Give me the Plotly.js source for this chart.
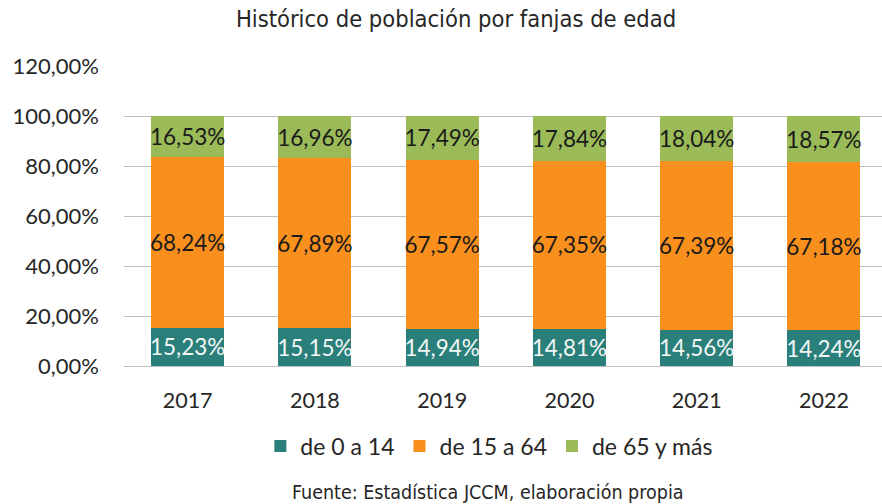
<!DOCTYPE html>
<html>
<head>
<meta charset="utf-8">
<script src="https://cdn.plot.ly/plotly-3.0.1.min.js"></script>
<style>html,body{margin:0;padding:0;background:#fff;}#chart{width:882px;height:504px;}</style>
</head>
<body>
<div id="chart"></div>
<script>
var years = ['2017', '2018', '2019', '2020', '2021', '2022'];
var seriesNames = ['de 0 a 14', 'de 15 a 64', 'de 65 y más'];
var young = [15.23, 15.15, 14.94, 14.81, 14.56, 14.24];
var adult = [68.24, 67.89, 67.57, 67.35, 67.39, 67.18];
var senior = [16.53, 16.96, 17.49, 17.84, 18.04, 18.57];
var yTicks = [0, 20, 40, 60, 80, 100, 120];
var yTickLabels = ['0,00%', '20,00%', '40,00%', '60,00%', '80,00%', '100,00%', '120,00%'];

var colors = ['#2B7F7A', '#F98F1D', '#9BBB59'];
var textColors = ['#F2F7F6', '#1A1A1A', '#1A1A1A'];
var values = [young, adult, senior];
var labelFont = 'Lato, "Open Sans", sans-serif';
var narrowFont = '"DejaVu Sans Condensed", "Liberation Sans Narrow", "Liberation Sans", sans-serif';

var traces = values.map(function (v, i) {
  return {
    type: 'bar',
    name: seriesNames[i],
    x: years,
    y: v,
    width: 0.574,
    marker: {color: colors[i], line: {width: 0}},
    texttemplate: '%{y:.2f}%',
    textposition: 'inside',
    insidetextanchor: 'middle',
    textangle: 0,
    constraintext: 'none',
    textfont: {family: labelFont, size: 22.5, color: textColors[i]},
    hoverinfo: 'skip'
  };
});

var layout = {
  width: 882,
  height: 504,
  barmode: 'stack',
  separators: ',.',
  paper_bgcolor: '#FFFFFF',
  plot_bgcolor: '#FFFFFF',
  margin: {l: 124, r: 0, t: 66, b: 138, pad: 0},
  title: {
    text: 'Histórico de población por fanjas de edad',
    font: {family: narrowFont, size: 23.5, color: '#262626'},
    x: 0.438, xanchor: 'center', xref: 'paper',
    y: 0.962, yanchor: 'middle', yref: 'container'
  },
  xaxis: {
    type: 'category',
    range: [-0.5, 5.456],
    showgrid: false,
    showline: true,
    linecolor: '#BFBFBF',
    linewidth: 1,
    ticks: '',
    tickfont: {family: labelFont, size: 21.5, color: '#262626'},
    ticklabelstandoff: 15,
    fixedrange: true
  },
  yaxis: {
    range: [0, 120],
    tickmode: 'array',
    tickvals: yTicks,
    ticktext: yTickLabels,
    showgrid: true,
    gridcolor: '#BFBFBF',
    gridwidth: 1,
    zeroline: false,
    showline: false,
    ticks: '',
    ticklabelstandoff: 24,
    tickfont: {family: labelFont, size: 22, color: '#262626'},
    fixedrange: true
  },
  legend: {
    orientation: 'h',
    traceorder: 'normal',
    x: 0.482, xanchor: 'center',
    y: -0.267, yanchor: 'middle',
    font: {family: labelFont, size: 23, color: '#262626'},
    itemclick: false, itemdoubleclick: false
  },
  showlegend: true,
  annotations: [{
    text: 'Fuente: Estadística JCCM, elaboración propia',
    xref: 'paper', yref: 'paper',
    x: 0.48, xanchor: 'center',
    y: -0.423, yanchor: 'middle',
    showarrow: false,
    font: {family: narrowFont, size: 19.5, color: '#262626'}
  }]
};

Plotly.newPlot('chart', traces, layout, {staticPlot: true, displayModeBar: false});
</script>
</body>
</html>
